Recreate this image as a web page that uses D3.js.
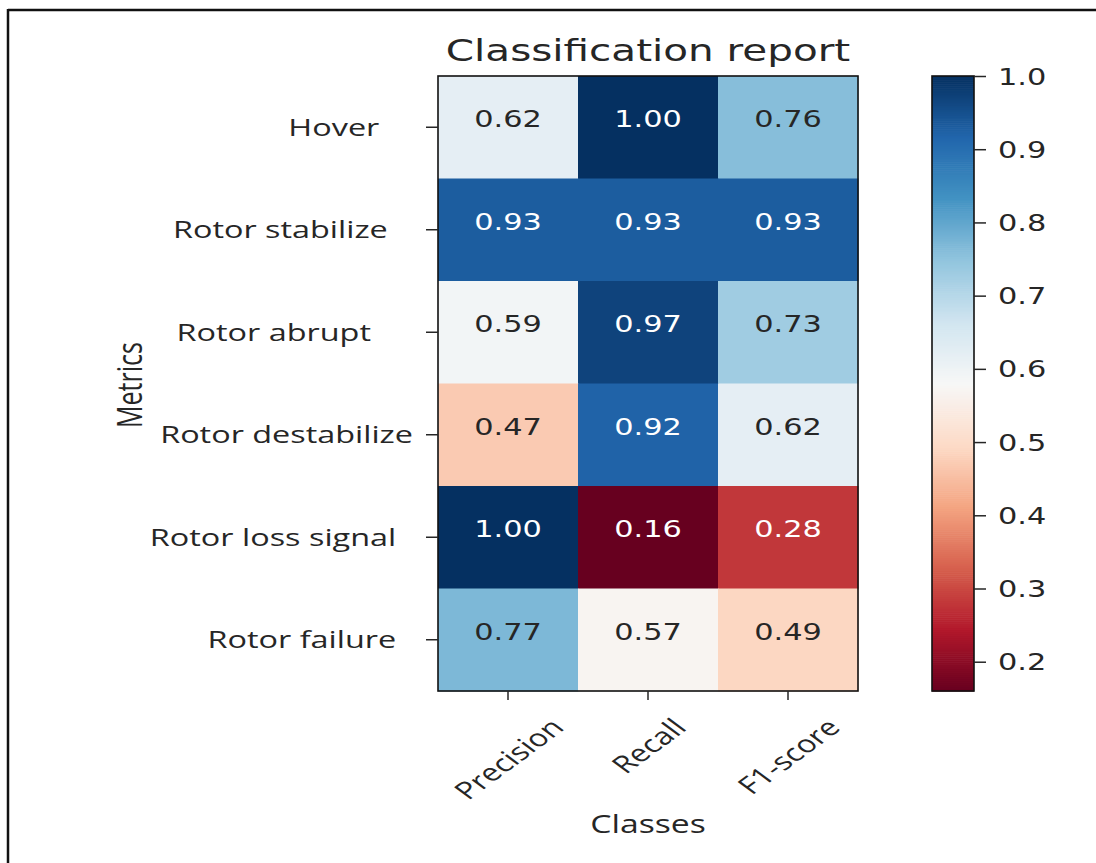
<!DOCTYPE html>
<html>
<head>
<meta charset="utf-8">
<script src="https://cdn.jsdelivr.net/npm/d3@7"></script>
<style>
  body { margin: 0; background: #fff; }
  svg { display: block; }
</style>
</head>
<body>
<svg id="chart" width="1096" height="863"></svg>
<script>
// rows (trailing blanks are part of the original tick labels)
const metrics = ["Hover    ", "Rotor stabilize   ", "Rotor abrupt     ", "Rotor destabilize", "Rotor loss signal  ", "Rotor failure  "];
const classes = ["Precision", "Recall", "F1-score"];
const precision = [0.62, 0.93, 0.59, 0.47, 1.00, 0.77];
const recall    = [1.00, 0.93, 0.97, 0.92, 0.16, 0.57];
const f1score   = [0.76, 0.93, 0.73, 0.62, 0.28, 0.49];
const colorbarTicks = [0.2, 0.3, 0.4, 0.5, 0.6, 0.7, 0.8, 0.9, 1.0];

// the picture is stretched sideways, so every text gets the same x scale
const SX = 1.35;
const ink = "#262626";
const serifLess = "'DejaVu Sans', sans-serif";
const humanist = "'Open Sans', sans-serif";

const svg = d3.select("#chart");

// frame of the screenshot
svg.append("line").attr("x1", 8).attr("x2", 8).attr("y1", 9).attr("y2", 863)
  .attr("stroke", "#111").attr("stroke-width", 2.5);
svg.append("line").attr("x1", 8).attr("x2", 1096).attr("y1", 10).attr("y2", 10)
  .attr("stroke", "#111").attr("stroke-width", 2.5);

const columns = [precision, recall, f1score];
const cells = [];
metrics.forEach((m, i) => {
  classes.forEach((c, j) => cells.push({ metric: m, cls: c, value: columns[j][i] }));
});

const vmin = d3.min(cells, d => d.value);
const vmax = d3.max(cells, d => d.value);

const x = d3.scaleBand().domain(classes).range([438, 858]);
const y = d3.scaleBand().domain(metrics).range([76, 691]);

// matplotlib RdBu = linear ramp through the 11 brewer colours
const rdbu = d3.schemeRdBu[11];
const color = d3.scaleLinear()
  .domain(rdbu.map((_, i) => vmin + i * (vmax - vmin) / 10))
  .range(rdbu)
  .interpolate(d3.interpolateRgb);

// heatmap cells
svg.append("g")
  .selectAll("rect")
  .data(cells)
  .join("rect")
  .attr("x", d => x(d.cls))
  .attr("y", d => y(d.metric))
  .attr("width", x.bandwidth() + 0.5)
  .attr("height", y.bandwidth() + 0.5)
  .attr("fill", d => color(d.value));

svg.append("g")
  .selectAll("text")
  .data(cells)
  .join("text")
  .attr("transform", d => `translate(${x(d.cls) + x.bandwidth() / 2},${y(d.metric) + y.bandwidth() / 2}) scale(${SX},1)`)
  .attr("text-anchor", "middle")
  .style("font-family", serifLess)
  .style("font-size", "22.5px")
  .attr("fill", d => d3.hsl(color(d.value)).l < 0.5 ? "#fff" : ink)
  .text(d => d.value.toFixed(2));

svg.append("rect")
  .attr("x", 438).attr("y", 76).attr("width", 420).attr("height", 615)
  .attr("fill", "none").attr("stroke", "#111").attr("stroke-width", 1.6);

// y axis
const yAxis = svg.append("g")
  .attr("transform", "translate(438,0)")
  .call(d3.axisLeft(y).tickSize(12).tickSizeOuter(0));
yAxis.select(".domain").remove();
yAxis.selectAll(".tick line").attr("stroke", ink).attr("stroke-width", 1.5);
yAxis.selectAll(".tick text")
  .attr("x", null).attr("dy", "0.36em")
  .attr("transform", `translate(-25,0) scale(${SX},1)`)
  .attr("fill", ink)
  .style("white-space", "pre")
  .style("font-family", humanist)
  .style("font-size", "24px");

// x axis
const xAxis = svg.append("g")
  .attr("transform", "translate(0,691)")
  .call(d3.axisBottom(x).tickSize(9).tickSizeOuter(0));
xAxis.select(".domain").remove();
xAxis.selectAll(".tick line").attr("stroke", ink).attr("stroke-width", 1.5);
xAxis.selectAll(".tick text")
  .attr("y", null).attr("dy", null)
  .attr("text-anchor", "middle")
  .attr("dominant-baseline", "central")
  .attr("fill", ink)
  .style("font-family", humanist)
  .style("font-size", "24px")
  .each(function () {
    const len = this.getComputedTextLength();
    const half = (len + 18) * Math.SQRT1_2 / 2;
    d3.select(this).attr("transform", `translate(0,${25 + half}) scale(${SX},1) rotate(-45)`);
  });

// colorbar
const cb = d3.scaleLinear().domain([vmin, vmax]).range([691, 76]);
const steps = d3.range(0, 300);
svg.append("g")
  .selectAll("rect")
  .data(steps)
  .join("rect")
  .attr("x", 932)
  .attr("width", 42)
  .attr("y", i => cb(vmin + (i + 1) * (vmax - vmin) / steps.length))
  .attr("height", (691 - 76) / steps.length + 0.6)
  .attr("fill", i => color(vmin + (i + 0.5) * (vmax - vmin) / steps.length));
svg.append("rect")
  .attr("x", 932).attr("y", 76).attr("width", 42).attr("height", 615)
  .attr("fill", "none").attr("stroke", "#111").attr("stroke-width", 1.6);

const cAxis = svg.append("g")
  .attr("transform", "translate(974,0)")
  .call(d3.axisRight(cb).tickValues(colorbarTicks).tickFormat(d3.format(".1f")).tickSize(12).tickSizeOuter(0));
cAxis.select(".domain").remove();
cAxis.selectAll(".tick line").attr("stroke", ink).attr("stroke-width", 1.5);
cAxis.selectAll(".tick text")
  .attr("x", null).attr("dy", "0.36em")
  .attr("text-anchor", "start")
  .attr("transform", `translate(24,0) scale(${SX},1)`)
  .attr("fill", ink)
  .style("font-family", serifLess)
  .style("font-size", "22.5px");

// titles
svg.append("text")
  .attr("transform", `translate(648,61) scale(${SX},1)`)
  .attr("text-anchor", "middle")
  .attr("fill", ink)
  .style("font-family", serifLess)
  .style("font-size", "30px")
  .text("Classification report");

svg.append("text")
  .attr("transform", `translate(648,833) scale(${SX},1)`)
  .attr("text-anchor", "middle")
  .attr("fill", ink)
  .style("font-family", humanist)
  .style("font-size", "25px")
  .text("Classes");

svg.append("text")
  .attr("transform", `translate(142,385) scale(${SX},1) rotate(-90)`)
  .attr("text-anchor", "middle")
  .attr("fill", ink)
  .style("font-family", humanist)
  .style("font-size", "25px")
  .text("Metrics");
</script>
</body>
</html>
